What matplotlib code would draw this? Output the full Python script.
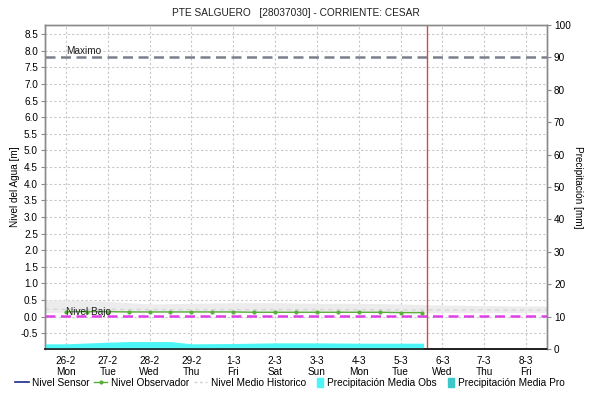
import matplotlib
matplotlib.use("Agg")
import matplotlib.pyplot as plt
import matplotlib.patches as mpatches
from matplotlib.lines import Line2D
from matplotlib.legend_handler import HandlerPatch
import numpy as np

plt.rcParams['font.family'] = ['Liberation Sans', 'DejaVu Sans']
plt.rcParams['axes.unicode_minus'] = False

# ---- data ----
day_labels = ["26-2", "27-2", "28-2", "29-2", "1-3", "2-3", "3-3", "4-3",
              "5-3", "6-3", "7-3", "8-3"]
weekday_labels = ["Mon", "Tue", "Wed", "Thu", "Fri", "Sat", "Sun", "Mon",
                  "Tue", "Wed", "Thu", "Fri"]

# observer readings every 12 h (days from 26-2 00:00)
obs_time = [0.0, 0.5, 1.0, 1.5, 2.0, 2.5, 3.0, 3.5, 4.0, 4.5, 5.0, 5.5,
            6.0, 6.5, 7.0, 7.5, 8.0, 8.5]
obs_level = [0.15, 0.15, 0.15, 0.14, 0.14, 0.14, 0.14, 0.14, 0.14, 0.13,
             0.13, 0.13, 0.13, 0.13, 0.13, 0.13, 0.12, 0.12]

# historical mean level and its band
hist_time = [-0.5, 0, 1, 2, 3, 4, 5, 6, 7, 8, 9, 10, 11, 11.5]
hist_upper = [0.50, 0.50, 0.46, 0.38, 0.40, 0.42, 0.42, 0.40, 0.40, 0.38,
              0.35, 0.33, 0.32, 0.32]
hist_lower = [0.12, 0.12, 0.12, 0.12, 0.12, 0.12, 0.12, 0.12, 0.12, 0.12,
              0.12, 0.12, 0.12, 0.12]
hist_mean = [0.22, 0.22, 0.22, 0.21, 0.21, 0.21, 0.21, 0.21, 0.21, 0.20,
             0.20, 0.20, 0.20, 0.20]

# mean observed precipitation [mm]
rain_time = [-0.5, 0.0, 1.0, 1.5, 2.5, 3.0, 4.0, 5.0, 6.0, 7.0, 8.0, 8.55]
rain_obs = [1.6, 1.6, 2.1, 2.3, 2.3, 1.6, 1.7, 1.9, 1.9, 1.8, 1.8, 1.8]

level_max = 7.8
level_low = 0.03
now_time = 8.63

title = "PTE SALGUERO   [28037030] - CORRIENTE: CESAR"

# ---- figure ----
fig = plt.figure(figsize=(5.89, 4.05), dpi=100)
ax = fig.add_axes([45 / 589, 1 - 349 / 405, 502 / 589, 324 / 405])
ax2 = ax.twinx()

fs = 7.2
grid_c = "#c8c8c8"
spine_c = "#8a8a8a"

ax.set_xlim(-0.5, 11.5)
ax.set_ylim(-0.975, 8.775)
ax2.set_ylim(0, 100)

ax.set_yticks(np.arange(-0.5, 8.51, 0.5))
ax.set_yticklabels([f"{v:.1f}" for v in np.arange(-0.5, 8.51, 0.5)], fontsize=fs)
ax2.set_yticks(np.arange(0, 101, 10))
ax2.set_yticklabels([str(v) for v in range(0, 101, 10)], fontsize=fs)

days = np.arange(len(day_labels))
ax.set_xticks(days)
ax.set_xticklabels([f"{d}\n{w}" for d, w in zip(day_labels, weekday_labels)],
                   fontsize=fs, linespacing=1.15)

ax.grid(True, color=grid_c, linestyle=(0, (2, 2)), linewidth=0.8)
ax.set_axisbelow(True)

for a in (ax, ax2):
    for s in ("left", "right", "top"):
        a.spines[s].set_color(spine_c)
        a.spines[s].set_linewidth(1.0)
    a.spines["bottom"].set_color("#202020")
    a.spines["bottom"].set_linestyle((0, (1, 1)))
    a.spines["bottom"].set_linewidth(1.2)
ax.tick_params(axis="y", direction="out", length=3, color=spine_c, pad=2)
ax.tick_params(axis="x", length=0, pad=5)
ax2.tick_params(axis="y", direction="out", length=3, color=spine_c, pad=2)

# historical band and mean
ax.fill_between(hist_time, hist_lower, hist_upper, color="#ececec", lw=0, zorder=1)
ax.plot(hist_time, hist_mean, color="#d6d6d6", lw=1.0, ls=(0, (3, 3)), zorder=2)

# thresholds
ax.axhline(level_max, color="#7b808c", lw=1.8, ls=(0, (4, 2.2)), zorder=3)
ax.axhline(level_low, color="#e040e8", lw=1.8, ls=(0, (4, 2.2)), zorder=4)
ax.text(0, level_max + 0.04, "Maximo", fontsize=fs, color="#202020",
        va="bottom", ha="left")
ax.text(0, level_low - 0.03, "Nivel Bajo", fontsize=fs, color="#202020",
        va="bottom", ha="left", zorder=6)

# observer level
ax.plot(obs_time, obs_level, color="#5aae3c", lw=1.0, marker="o",
        markersize=2.0, zorder=5)

# current time marker
ax.axvline(now_time, color="#d24a4a", lw=1.0, zorder=6)

# precipitation
ax2.fill_between(rain_time, 0, rain_obs, color="#4cf6f6", lw=0, zorder=1)

ax.set_ylabel("Nivel del Agua [m]", fontsize=fs, labelpad=0.5)
ax2.set_ylabel("Precipitación [mm]", fontsize=fs, rotation=270, labelpad=8.5)
fig.text(296 / 589, 1 - 13 / 405, title, fontsize=fs + 0.1, ha="center",
         va="center", color="#202020")

# legend
handles = [
    Line2D([], [], color="#1a2a8c", lw=1.2),
    Line2D([], [], color="#5aae3c", lw=1.0, marker="o", markersize=2.0),
    Line2D([], [], color="#d0d0d0", lw=1.0, ls=(0, (2, 2))),
    mpatches.Patch(color="#4cf6f6"),
    mpatches.Patch(color="#3cc8c8"),
]
labels = ["Nivel Sensor", "Nivel Observador", "Nivel Medio Historico",
          "Precipitación Media Obs", "Precipitación Media Pro"]


def narrow_patch(legend, orig_handle, xdescent, ydescent, width, height, fontsize):
    w = width * 0.45
    return mpatches.Rectangle((width - w - xdescent, -ydescent - 1), w, height + 2)


fig.legend(handles, labels, loc="center", bbox_to_anchor=(290 / 589, 1 - 383 / 405),
           ncol=5, frameon=False, fontsize=fs + 0.1, handlelength=1.3,
           handletextpad=0.35, columnspacing=0.45, borderpad=0.0,
           handler_map={mpatches.Patch: HandlerPatch(patch_func=narrow_patch)})

fig.savefig("out.png", dpi=100)
